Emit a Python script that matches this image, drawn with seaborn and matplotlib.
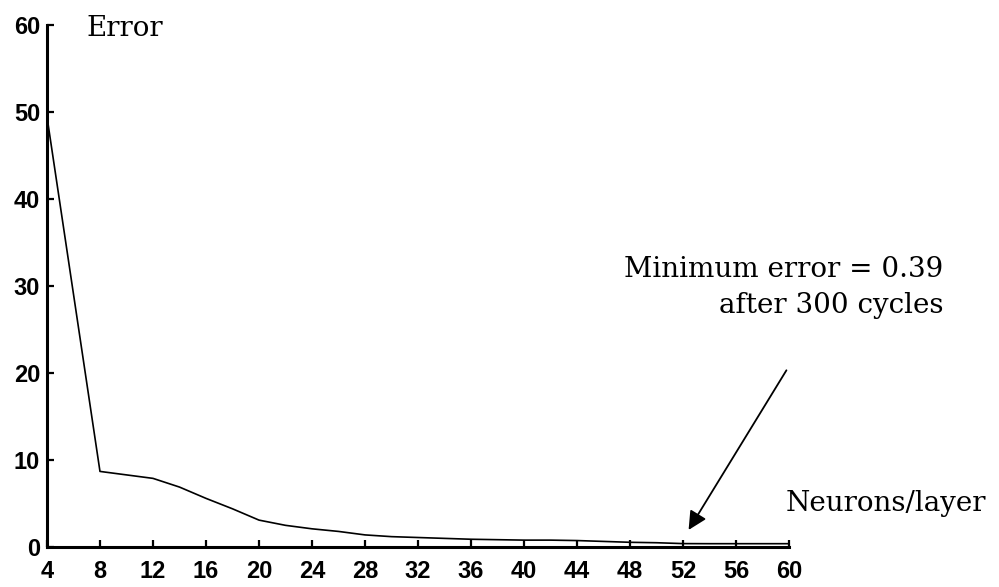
import matplotlib
matplotlib.use("Agg")
import matplotlib.pyplot as plt
import seaborn as sns
import pandas as pd

# values
neurons = [4, 8, 10, 12, 14, 16, 18, 20, 22, 24, 26, 28, 30, 32, 34, 36,
           38, 40, 42, 44, 46, 48, 50, 52, 54, 56, 58, 60]
error = [49.5, 8.7, 8.3, 7.9, 6.9, 5.6, 4.4, 3.1, 2.5, 2.1, 1.8, 1.4, 1.2, 1.1,
         1.0, 0.9, 0.85, 0.8, 0.8, 0.75, 0.65, 0.55, 0.5, 0.4, 0.39, 0.39, 0.39, 0.39]
x_ticks = list(range(4, 61, 4))
y_ticks = list(range(0, 61, 10))

df = pd.DataFrame({"neurons": neurons, "error": error})

sns.set_style("ticks")
plt.rcParams["font.family"] = ["Liberation Sans", "DejaVu Sans"]
plt.rcParams["text.color"] = "black"

fig = plt.figure(figsize=(9.99, 5.87), dpi=100)
ax = fig.add_axes([0.047, 0.068, 0.743, 0.889])

sns.lineplot(data=df, x="neurons", y="error", color="black", linewidth=1.2,
             ax=ax, clip_on=False)

ax.set_xlim(4, 60)
ax.set_ylim(0, 60)
ax.set_xticks(x_ticks)
ax.set_yticks(y_ticks)
ax.set_xlabel("")
ax.set_ylabel("")
sns.despine(ax=ax)
for side in ["left", "bottom"]:
    ax.spines[side].set_linewidth(2.2)
    ax.spines[side].set_color("black")
ax.tick_params(axis="both", direction="in", length=5, width=1.6, colors="black")
ax.tick_params(axis="x", pad=9)
ax.tick_params(axis="y", pad=5)
for lab in ax.get_xticklabels() + ax.get_yticklabels():
    lab.set_fontsize(17)
    lab.set_fontweight("bold")

serif = ["DejaVu Serif"]
fig.text(0.087, 0.939, "Error", fontsize=20, family=serif, va="baseline")
fig.text(0.944, 0.528, "Minimum error = 0.39", fontsize=20, family=serif,
         ha="right", va="baseline")
fig.text(0.944, 0.467, "after 300 cycles", fontsize=20, family=serif,
         ha="right", va="baseline")
fig.text(0.786, 0.129, "Neurons/layer", fontsize=20, family=serif, va="baseline")

ax.annotate("", xy=(52.3, 1.7), xytext=(59.9, 20.6),
            arrowprops=dict(arrowstyle="-|>", color="black", lw=1.3,
                            mutation_scale=28),
            annotation_clip=False)

plt.savefig("out.png", dpi=100)
plt.close()
